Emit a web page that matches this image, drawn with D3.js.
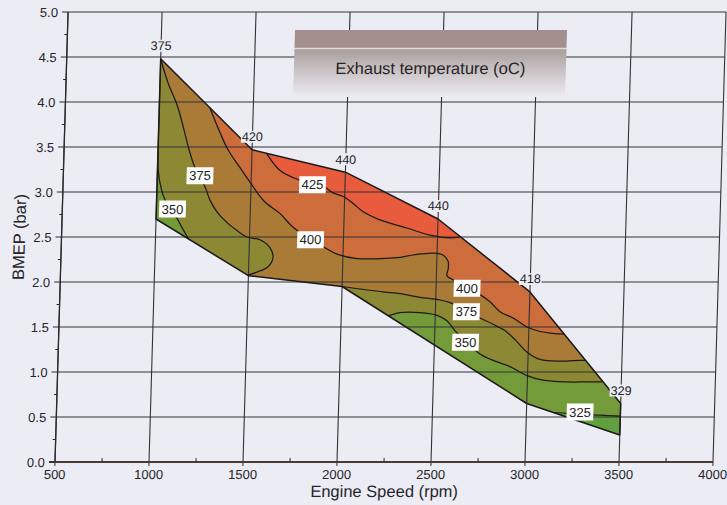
<!DOCTYPE html>
<html>
<head>
<meta charset="utf-8">
<script src="https://cdn.jsdelivr.net/npm/d3@7"></script>
<style>
  html, body { margin: 0; padding: 0; background: #ececf4; }
  svg { display: block; font-family: Arial, "Liberation Sans", sans-serif; }
</style>
</head>
<body>
<svg id="chart" width="727" height="505"></svg>
<script>
// Operating envelope: full-load (upper) and lower boundaries, [rpm, BMEP bar]
const envelopeUpper = [[1000, 4.48], [1500, 3.47], [2000, 3.22], [2500, 2.70], [3000, 1.89], [3500, 0.65]];
const envelopeLower = [[1000, 2.70], [1500, 2.07], [2000, 1.95], [3000, 0.65], [3500, 0.30]];

// Exhaust temperature measured at the full-load points (degC)
const upperValues = [375, 420, 440, 440, 418, 329];

// Isotherm levels (degC) and band colours, coolest band first
const levels = [325, 350, 375, 400, 425];
const bandColors = ["#60a03e", "#749b39", "#8c8834", "#a97b37", "#cc6d3b", "#e85b3c"];

// Isotherms, each traced so that the cooler side lies on its left
const iso325 = [[3500, 0.51], [3392, 0.52], [3285, 0.53], [3141, 0.55]];
const iso350Left = [[1175, 2.48], [1138, 2.61], [1110, 2.71], [1073, 2.80], [1045, 2.91],
  [1025, 3.02], [1004, 3.24], [1000, 3.49]];
const iso350Right = [[3400, 0.89], [3318, 0.89], [3211, 0.89], [3083, 0.91], [2997, 0.96],
  [2905, 1.06], [2825, 1.12], [2744, 1.20], [2668, 1.34], [2607, 1.46], [2563, 1.57],
  [2509, 1.63], [2419, 1.66], [2312, 1.66], [2249, 1.62]];
const iso375Left = [[1495, 2.076], [1545, 2.11], [1603, 2.17], [1628, 2.27], [1611, 2.38],
  [1556, 2.47], [1487, 2.50], [1427, 2.58], [1378, 2.66], [1323, 2.78], [1284, 2.91],
  [1255, 3.06], [1199, 3.27], [1165, 3.47], [1135, 3.69], [1094, 3.97], [1043, 4.21], [1000, 4.48]];
const iso375Right = [[3306, 1.13], [3277, 1.13], [3171, 1.12], [3064, 1.14], [2994, 1.22],
  [2928, 1.36], [2873, 1.46], [2809, 1.53], [2738, 1.60], [2663, 1.68], [2577, 1.77],
  [2523, 1.80], [2416, 1.83], [2309, 1.87], [2219, 1.89], [2000, 1.95]];
const iso400 = [[3190, 1.42], [3129, 1.43], [3060, 1.45], [2990, 1.50], [2914, 1.60],
  [2844, 1.67], [2789, 1.78], [2735, 1.86], [2659, 1.94], [2584, 2.03], [2556, 2.07],
  [2562, 2.15], [2560, 2.23], [2532, 2.30], [2478, 2.32], [2372, 2.30], [2288, 2.27],
  [2197, 2.26], [2075, 2.26], [1968, 2.31], [1903, 2.38], [1822, 2.47], [1724, 2.62],
  [1659, 2.76], [1571, 2.90], [1494, 3.11], [1439, 3.27], [1372, 3.47], [1327, 3.66], [1270, 3.93]];
const iso425 = [[2620, 2.50], [2566, 2.49], [2460, 2.52], [2335, 2.60], [2191, 2.69],
  [2101, 2.78], [2047, 2.87], [1993, 2.95], [1937, 2.99], [1894, 3.05], [1824, 3.09],
  [1760, 3.13], [1652, 3.24], [1578, 3.43]];

const isotherms = [
  { level: 425, points: iso425 },
  { level: 400, points: iso400 },
  { level: 375, points: iso375Left },
  { level: 375, points: iso375Right },
  { level: 350, points: iso350Left },
  { level: 350, points: iso350Right },
  { level: 325, points: iso325 }
];

// Where each isotherm carries its value tag, [rpm, BMEP]
const isothermTags = [
  { level: 375, at: [1227, 3.18] },
  { level: 350, at: [1086, 2.81] },
  { level: 425, at: [1827, 3.08] },
  { level: 400, at: [1825, 2.47] },
  { level: 400, at: [2665, 1.93] },
  { level: 375, at: [2665, 1.67] },
  { level: 350, at: [2665, 1.33] },
  { level: 325, at: [3285, 0.555] }
];

const xTicks = [500, 1000, 1500, 2000, 2500, 3000, 3500, 4000];
const yTicks = [0, 0.5, 1.0, 1.5, 2.0, 2.5, 3.0, 3.5, 4.0, 4.5, 5.0];
const xMinorTicks = [750, 1250, 1750, 2250, 2750, 3250, 3750];
const yMinorTicks = [0.25, 0.75, 1.25, 1.75, 2.25, 2.75, 3.25, 3.75, 4.25, 4.75];

const titleText = "Exhaust temperature (oC)";
const xTitle = "Engine Speed (rpm)";
const yTitle = "BMEP (bar)";

// ---------------------------------------------------------------------------
const svg = d3.select("#chart");
const W = 727, H = 505;
const plot = { left: 55, right: 713, top: 12, bottom: 462 };
const bg = "#ececf4";

const x = d3.scaleLinear().domain([500, 4000]).range([plot.left, plot.right]);
const y = d3.scaleLinear().domain([0, 5]).range([plot.bottom, plot.top]);

svg.append("rect").attr("width", W).attr("height", H).attr("fill", bg);

// the printed sheet leans slightly: shear the whole drawing about the x axis
const lean = 0.029;
const g = svg.append("g")
  .attr("transform", `translate(${lean * plot.bottom},0) skewX(${-Math.atan(lean) * 180 / Math.PI})`);

// envelope polygon
const envelope = envelopeUpper.concat(envelopeLower.slice().reverse());
const polyLine = d3.line().x(d => x(d[0])).y(d => y(d[1]));
const smoothLine = d3.line().x(d => x(d[0])).y(d => y(d[1])).curve(d3.curveCatmullRom.alpha(0.5));

const defs = svg.append("defs");
defs.append("clipPath").attr("id", "env")
  .append("path").attr("d", polyLine(envelope) + "Z");

// --- cold-side regions, closed round a frame outside the envelope ---------
const frame = { x0: 0, x1: 4500, y0: -1, y1: 6 };
const FW = frame.x1 - frame.x0, FH = frame.y1 - frame.y0, FP = 2 * (FW + FH);
const frameCorners = [[frame.x1, frame.y0], [frame.x1, frame.y1], [frame.x0, frame.y1], [frame.x0, frame.y0]];

function chainAt(chain, xv) {
  for (let i = 0; i < chain.length - 1; i++) {
    const [xa, ya] = chain[i], [xb, yb] = chain[i + 1];
    if (xv >= xa && xv <= xb) return ya + (yb - ya) * (xv - xa) / (xb - xa);
  }
  return xv < chain[0][0] ? chain[0][1] : chain[chain.length - 1][1];
}
function toFrame([px, py]) {
  if (Math.abs(px - envelopeUpper[0][0]) < 1) return [frame.x0, py];
  if (Math.abs(px - envelopeUpper[envelopeUpper.length - 1][0]) < 1) return [frame.x1, py];
  const up = chainAt(envelopeUpper, px), lo = chainAt(envelopeLower, px);
  return Math.abs(py - up) < Math.abs(py - lo) ? [px, frame.y1] : [px, frame.y0];
}
function perim([px, py]) {
  if (py === frame.y0) return px - frame.x0;
  if (px === frame.x1) return FW + (py - frame.y0);
  if (py === frame.y1) return FW + FH + (frame.x1 - px);
  return 2 * FW + FH + (frame.y1 - py);
}
function coldSidePath(points) {
  const s = toFrame(points[0]), e = toFrame(points[points.length - 1]);
  const ts = perim(s), te = perim(e);
  const span = ((ts - te) % FP + FP) % FP;
  const between = frameCorners
    .map(c => [c, ((perim(c) - te) % FP + FP) % FP])
    .filter(([, o]) => o > 0 && o < span)
    .sort((a, b) => a[1] - b[1])
    .map(d => d[0]);
  const closing = [e, ...between, s].map(p => `L${x(p[0])},${y(p[1])}`).join("");
  return smoothLine(points) + closing + "Z";
}

const fills = g.append("g").attr("clip-path", "url(#env)");
fills.append("path").attr("d", polyLine(envelope) + "Z").attr("fill", bandColors[levels.length]);
levels.slice().reverse().forEach(level => {
  const idx = levels.indexOf(level);
  isotherms.filter(c => c.level === level).forEach(c => {
    fills.append("path").attr("d", coldSidePath(c.points)).attr("fill", bandColors[idx]);
  });
});

// --- grid ------------------------------------------------------------------
const grid = g.append("g").attr("stroke", "#323238").attr("stroke-width", 1.1);
xTicks.forEach(t => grid.append("line")
  .attr("x1", x(t)).attr("x2", x(t)).attr("y1", y(0)).attr("y2", y(5)));
yTicks.forEach(t => grid.append("line")
  .attr("x1", x(500)).attr("x2", x(4000)).attr("y1", y(t)).attr("y2", y(t)));

// --- isotherm lines and envelope outline -----------------------------------
const lines = g.append("g").attr("clip-path", "url(#env)");
isotherms.forEach(c => lines.append("path")
  .attr("d", smoothLine(c.points))
  .attr("fill", "none").attr("stroke", "#1e1a18").attr("stroke-width", 1.25));

g.append("path").attr("d", polyLine(envelope) + "Z")
  .attr("fill", "none").attr("stroke", "#1c1a1a").attr("stroke-width", 1.5)
  .attr("stroke-linejoin", "round");

// --- axes ----------------------------------------------------------------
const axes = g.append("g").attr("stroke", "#2a2a2e");
axes.append("line").attr("x1", x(500)).attr("x2", x(500)).attr("y1", y(0)).attr("y2", y(5)).attr("stroke-width", 1.3);
axes.append("line").attr("x1", x(500) - 6).attr("x2", x(4000)).attr("y1", y(0)).attr("y2", y(0))
  .attr("stroke", "#4a3a34").attr("stroke-width", 1.8);
yTicks.forEach(t => axes.append("line").attr("x1", x(500) - 6).attr("x2", x(500)).attr("y1", y(t)).attr("y2", y(t)));
yMinorTicks.forEach(t => axes.append("line").attr("x1", x(500) - 3).attr("x2", x(500)).attr("y1", y(t)).attr("y2", y(t)));
xTicks.forEach(t => axes.append("line").attr("x1", x(t)).attr("x2", x(t)).attr("y1", y(0)).attr("y2", y(0) + 4));
xMinorTicks.forEach(t => axes.append("line").attr("x1", x(t)).attr("x2", x(t)).attr("y1", y(0)).attr("y2", y(0) - 4));

const tickText = g.append("g").attr("fill", "#26262a").attr("font-size", 13);
yTicks.forEach(t => tickText.append("text")
  .attr("x", x(500) - 10).attr("y", y(t)).attr("dy", "0.36em")
  .attr("text-anchor", "end").text(d3.format(".1f")(t)));
xTicks.forEach(t => tickText.append("text")
  .attr("x", x(t)).attr("y", y(0) + 17)
  .attr("text-anchor", "middle").text(t));

g.append("text").attr("x", (plot.left + plot.right) / 2 + 1).attr("y", 497)
  .attr("text-anchor", "middle").attr("font-size", 16.5).attr("fill", "#26262a").text(xTitle);
g.append("text").attr("transform", `translate(18.5,237) rotate(-90)`)
  .attr("text-anchor", "middle").attr("font-size", 16.5).attr("fill", "#26262a").text(yTitle);

// --- title panel -----------------------------------------------------------
const grad = defs.append("linearGradient").attr("id", "panelFade")
  .attr("x1", 0).attr("y1", 0).attr("x2", 0).attr("y2", 1);
grad.append("stop").attr("offset", 0).attr("stop-color", "#aa9e9e");
grad.append("stop").attr("offset", 0.45).attr("stop-color", "#c9c2c4");
grad.append("stop").attr("offset", 1).attr("stop-color", bg);

const panel = { x: 282.5, w: 272, top: 30, band: 18, bottom: 97 };
g.append("rect").attr("x", panel.x).attr("y", panel.top + panel.band + 1)
  .attr("width", panel.w).attr("height", panel.bottom - panel.top - panel.band - 1)
  .attr("fill", "url(#panelFade)");
g.append("rect").attr("x", panel.x).attr("y", panel.top)
  .attr("width", panel.w).attr("height", panel.band).attr("fill", "#a38f8d");
g.append("line").attr("x1", panel.x).attr("x2", panel.x + panel.w)
  .attr("y1", panel.top + panel.band + 0.5).attr("y2", panel.top + panel.band + 0.5)
  .attr("stroke", "#e4dcd2").attr("stroke-width", 1.3);
g.append("text").attr("x", panel.x + panel.w / 2 + 0.5).attr("y", 74)
  .attr("text-anchor", "middle").attr("font-size", 16.5).attr("fill", "#262424").text(titleText);

// --- isotherm tags -----------------------------------------------------------
const tags = g.append("g");
isothermTags.forEach(t => {
  const cx = x(t.at[0]), cy = y(t.at[1]);
  const box = tags.append("rect").attr("fill", "#ffffff");
  const txt = tags.append("text").attr("x", cx).attr("y", cy).attr("dy", "0.36em")
    .attr("text-anchor", "middle").attr("font-size", 13).attr("fill", "#222").text(t.level);
  const w = txt.node().getComputedTextLength() + 5;
  box.attr("x", cx - w / 2).attr("y", cy - 8.5).attr("width", w).attr("height", 17);
});

// --- full-load values --------------------------------------------------------
const vals = g.append("g");
envelopeUpper.forEach((p, i) => {
  const cx = x(p[0]), cy = y(p[1]) - 13;
  const box = vals.append("rect").attr("fill", bg);
  const txt = vals.append("text").attr("x", cx).attr("y", cy).attr("dy", "0.36em")
    .attr("text-anchor", "middle").attr("font-size", 12.5).attr("fill", "#222").text(upperValues[i]);
  const w = txt.node().getComputedTextLength() + 2;
  box.attr("x", cx - w / 2).attr("y", cy - 6).attr("width", w).attr("height", 12);
});
</script>
</body>
</html>
